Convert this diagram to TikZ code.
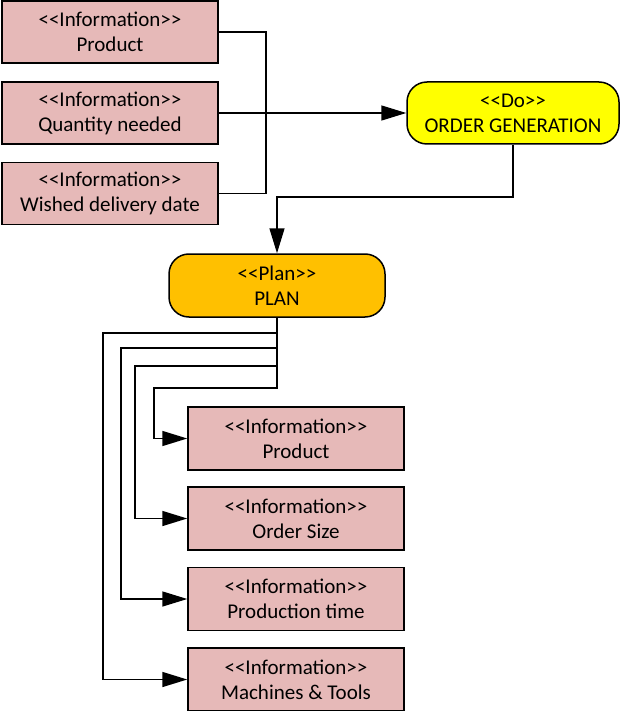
\documentclass[tikz,border=0pt]{standalone}
\usepackage{fontspec}
\setmainfont{Carlito}[Ligatures=TeXOff]
\usetikzlibrary{arrows.meta}
\definecolor{infofill}{RGB}{230,185,184}
\definecolor{dofill}{RGB}{255,255,0}
\definecolor{planfill}{RGB}{255,192,0}
\begin{document}
\begin{tikzpicture}[x=1pt,y=-1pt,
  every node/.style={font=\fontsize{21}{25}\selectfont, align=center, inner sep=0pt},
  info/.style={draw=black, line width=1.5pt, fill=infofill, minimum width=216pt, minimum height=62pt},
  act/.style={draw=black, line width=1.5pt, rounded corners=20pt, minimum width=214pt, minimum height=62pt},
  link/.style={draw=black, line width=1.5pt},
  arr/.style={link, -{Triangle[length=25pt,width=15pt]}}]
\useasboundingbox (0,0) rectangle (620,711);

% input information
\node[info] (i1) at (110,32) {<<Information>>\\Product};
\node[info] (i2) at (110,113) {<<Information>>\\Quantity needed};
\node[info] (i3) at (110,193.5) {<<Information>>\\Wished delivery date};

% activities
\node[act, fill=dofill, minimum width=212pt] (do) at (513,113) {<<Do>>\\ORDER GENERATION};
\node[act, fill=planfill, minimum width=216pt, minimum height=63pt] (plan) at (277,285.5) {<<Plan>>\\PLAN};

% output information
\node[info, minimum height=63pt] (o1) at (296,438.5) {<<Information>>\\Product};
\node[info, minimum height=63pt] (o2) at (296,518.5) {<<Information>>\\Order Size};
\node[info, minimum height=63pt] (o3) at (296,599) {<<Information>>\\Production time};
\node[info, minimum height=63pt] (o4) at (296,679.5) {<<Information>>\\Machines \& Tools};

% bracket joining the first and last inputs
\coordinate (ja) at (266,32);
\coordinate (jb) at (266,193.5);
\draw[link] (i1.east) -- (ja) -- (jb) -- (i3.east);
\draw[arr] (i2.east) -- (do.west);

% order generation feeds the plan
\coordinate (d1) at (513,197);
\coordinate (d2) at (277,197);
\draw[arr] (do.south) -- (d1) -- (d2) -- (plan.north);

% plan fans out to the outputs
\coordinate (c1) at (103,333);
\coordinate (c2) at (121,348);
\coordinate (c3) at (135,366);
\coordinate (c4) at (154,388);
\draw[arr] (plan.south) |- (c1) |- (o4.west);
\draw[arr] (plan.south) |- (c2) |- (o3.west);
\draw[arr] (plan.south) |- (c3) |- (o2.west);
\draw[arr] (plan.south) |- (c4) |- (o1.west);
\end{tikzpicture}
\end{document}
